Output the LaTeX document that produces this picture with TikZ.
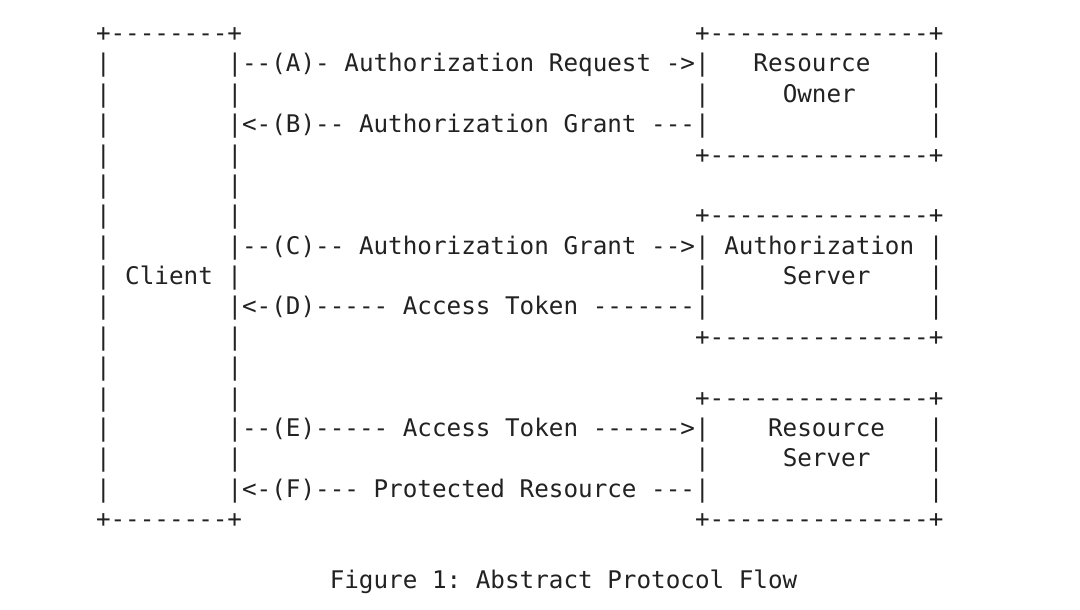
\documentclass[tikz,border=0pt]{standalone}
\usepackage{fontspec}
\setmonofont{DejaVu Sans Mono}
\definecolor{ink}{HTML}{222222}
\begin{document}
\begin{tikzpicture}[x=1pt,y=1pt,
  asciiline/.style={anchor=base west, inner sep=0pt, outer sep=0pt, text=ink,
    font=\ttfamily\fontsize{24.27}{30}\selectfont}]
\useasboundingbox[fill=white] (0,0) rectangle (1080,-610);
\node[asciiline] (l0)  at (96.0,-41.5)   {+--------+~~~~~~~~~~~~~~~~~~~~~~~~~~~~~~~+---------------+};
\node[asciiline] (l1)  at (96.0,-71.875) {|~~~~~~~~|--(A)-~Authorization~Request~->|~~~Resource~~~~|};
\node[asciiline] (l2)  at (96.0,-102.25) {|~~~~~~~~|~~~~~~~~~~~~~~~~~~~~~~~~~~~~~~~|~~~~~Owner~~~~~|};
\node[asciiline] (l3)  at (96.0,-132.625){|~~~~~~~~|<-(B)--~Authorization~Grant~---|~~~~~~~~~~~~~~~|};
\node[asciiline] (l4)  at (96.0,-163.0)  {|~~~~~~~~|~~~~~~~~~~~~~~~~~~~~~~~~~~~~~~~+---------------+};
\node[asciiline] (l5)  at (96.0,-193.375){|~~~~~~~~|};
\node[asciiline] (l6)  at (96.0,-223.75) {|~~~~~~~~|~~~~~~~~~~~~~~~~~~~~~~~~~~~~~~~+---------------+};
\node[asciiline] (l7)  at (96.0,-254.125){|~~~~~~~~|--(C)--~Authorization~Grant~-->|~Authorization~|};
\node[asciiline] (l8)  at (96.0,-284.5)  {|~Client~|~~~~~~~~~~~~~~~~~~~~~~~~~~~~~~~|~~~~~Server~~~~|};
\node[asciiline] (l9)  at (96.0,-314.875){|~~~~~~~~|<-(D)-----~Access~Token~-------|~~~~~~~~~~~~~~~|};
\node[asciiline] (l10) at (96.0,-345.25) {|~~~~~~~~|~~~~~~~~~~~~~~~~~~~~~~~~~~~~~~~+---------------+};
\node[asciiline] (l11) at (96.0,-375.625){|~~~~~~~~|};
\node[asciiline] (l12) at (96.0,-406.0)  {|~~~~~~~~|~~~~~~~~~~~~~~~~~~~~~~~~~~~~~~~+---------------+};
\node[asciiline] (l13) at (96.0,-436.375){|~~~~~~~~|--(E)-----~Access~Token~------>|~~~~Resource~~~|};
\node[asciiline] (l14) at (96.0,-466.75) {|~~~~~~~~|~~~~~~~~~~~~~~~~~~~~~~~~~~~~~~~|~~~~~Server~~~~|};
\node[asciiline] (l15) at (96.0,-497.125){|~~~~~~~~|<-(F)---~Protected~Resource~---|~~~~~~~~~~~~~~~|};
\node[asciiline] (l16) at (96.0,-527.5)  {+--------+~~~~~~~~~~~~~~~~~~~~~~~~~~~~~~~+---------------+};
\node[asciiline] (cap) at (329.76,-588.25){Figure~1:~Abstract~Protocol~Flow};
\end{tikzpicture}
\end{document}
